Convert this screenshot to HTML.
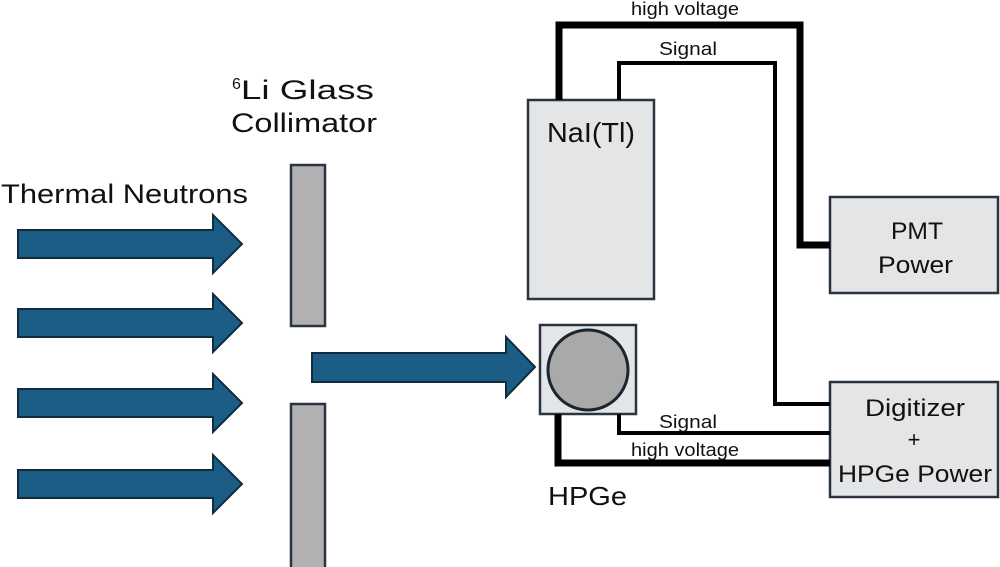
<!DOCTYPE html>
<html><head><meta charset="utf-8"><style>
html,body{margin:0;padding:0;background:#fff;width:1000px;height:567px;overflow:hidden}
text{font-family:"Liberation Sans",sans-serif;fill:#111}
</style></head><body>
<svg width="1000" height="567" viewBox="0 0 1000 567" xmlns="http://www.w3.org/2000/svg">
<g fill="#1b5d84" stroke="#0f2c40" stroke-width="2">
<polygon points="18,230 213,230 213,215 242,244 213,273 213,258 18,258"/>
<polygon points="18,309 213,309 213,294 242,323 213,352 213,337 18,337"/>
<polygon points="18,389 213,389 213,374 242,403 213,432 213,417 18,417"/>
<polygon points="18,470 213,470 213,455 242,484 213,513 213,498 18,498"/>
<polygon points="312,353 506,353 506,337 535,367 506,397 506,382 312,382"/>
</g>
<g fill="#b1b1b2" stroke="#2a3440" stroke-width="2.5">
<rect x="291" y="165" width="34" height="161"/>
<rect x="291" y="404" width="34" height="170"/>
</g>
<g fill="#e3e5e7" stroke="#2a3440" stroke-width="2.5">
<rect x="528" y="100" width="126" height="199"/>
<rect x="830" y="197" width="168" height="96"/>
<rect x="830" y="382" width="168" height="115"/>
<rect x="540" y="325" width="96" height="89"/>
</g>
<circle cx="588" cy="370" r="40" fill="#a9a9aa" stroke="#1a2530" stroke-width="3"/>
<g fill="none" stroke="#000" stroke-linejoin="miter">
<polyline points="559,100 559,25 800,25 800,245 830,245" stroke-width="7"/>
<polyline points="619,100 619,63 775,63 775,404 830,404" stroke-width="4"/>
<polyline points="619,414 619,433 830,433" stroke-width="4"/>
<polyline points="558,414 558,463 830,463" stroke-width="7"/>
</g>
<text x="1" y="203" font-size="27" textLength="247" lengthAdjust="spacingAndGlyphs">Thermal Neutrons</text>
<text x="232" y="99" font-size="27"><tspan font-size="16" dy="-10">6</tspan><tspan dy="10" textLength="133" lengthAdjust="spacingAndGlyphs">Li Glass</tspan></text>
<text x="231" y="132" font-size="27" textLength="146" lengthAdjust="spacingAndGlyphs">Collimator</text>
<text x="547" y="142" font-size="28" textLength="88" lengthAdjust="spacingAndGlyphs">NaI(Tl)</text>
<text x="891" y="239" font-size="24" textLength="52" lengthAdjust="spacingAndGlyphs">PMT</text>
<text x="878" y="273" font-size="24" textLength="75" lengthAdjust="spacingAndGlyphs">Power</text>
<text x="865" y="416" font-size="24" textLength="100" lengthAdjust="spacingAndGlyphs">Digitizer</text>
<text x="914" y="447" font-size="22" text-anchor="middle">+</text>
<text x="838" y="482" font-size="24" textLength="154" lengthAdjust="spacingAndGlyphs">HPGe Power</text>
<text x="548" y="505" font-size="26" textLength="79" lengthAdjust="spacingAndGlyphs">HPGe</text>
<text x="631" y="15" font-size="18" textLength="108" lengthAdjust="spacingAndGlyphs">high voltage</text>
<text x="659" y="55" font-size="18" textLength="58" lengthAdjust="spacingAndGlyphs">Signal</text>
<text x="659" y="428" font-size="18" textLength="58" lengthAdjust="spacingAndGlyphs">Signal</text>
<text x="631" y="456" font-size="18" textLength="108" lengthAdjust="spacingAndGlyphs">high voltage</text>
</svg>
</body></html>
